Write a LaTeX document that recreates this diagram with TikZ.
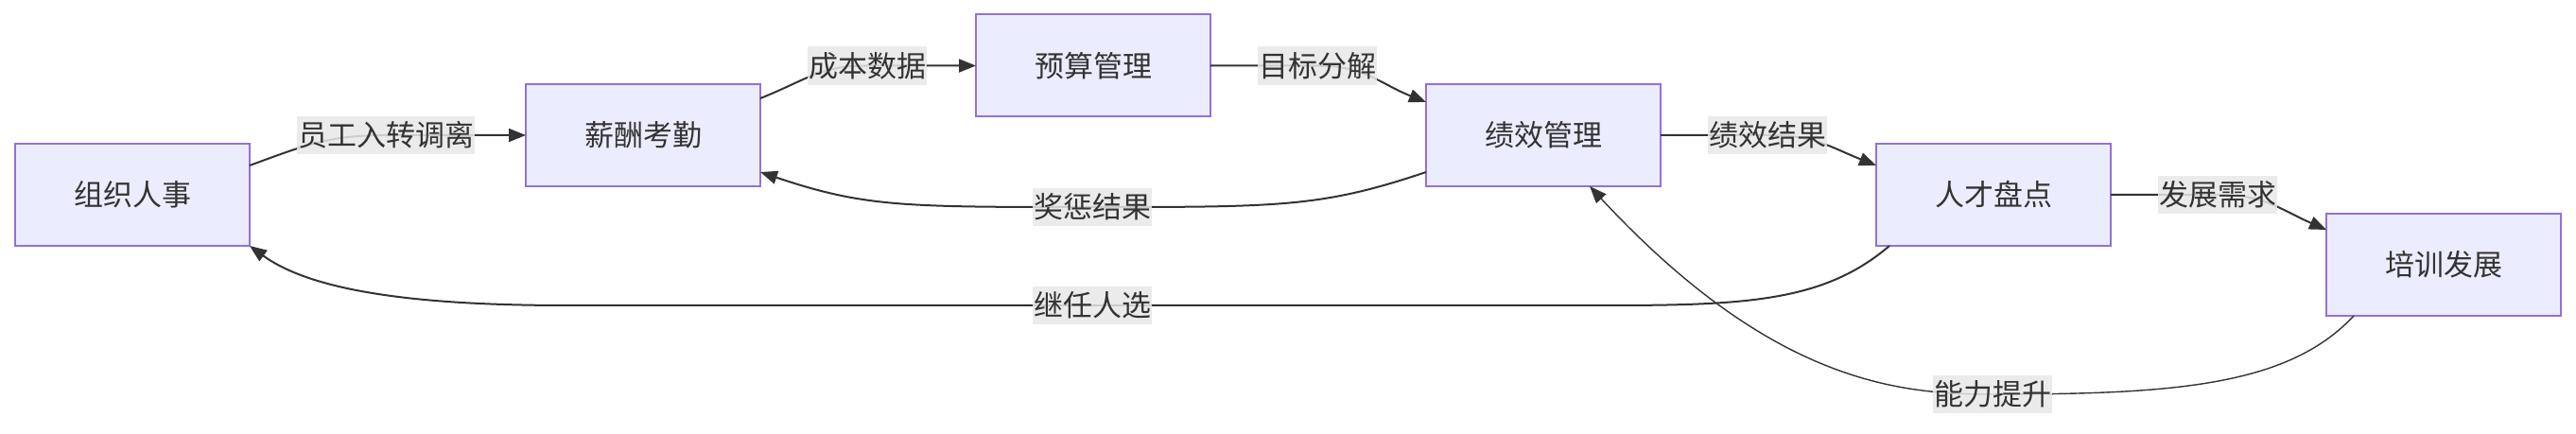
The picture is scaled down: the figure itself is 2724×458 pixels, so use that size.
\documentclass[tikz,border=0pt]{standalone}
\usepackage{fontspec}
\setmainfont{Noto Sans CJK SC}
\usepackage{tikz}
\usetikzlibrary{arrows.meta, positioning}
\definecolor{boxfill}{HTML}{ECECFF}
\definecolor{boxline}{HTML}{9370DB}
\definecolor{textgray}{HTML}{333333}
\definecolor{labelbg}{HTML}{E8E8E8}

\begin{document}
\begin{tikzpicture}[
    node distance=228pt,
    module/.style={rectangle, draw=boxline, fill=boxfill, line width=2pt, outer sep=0pt, minimum width=248pt, minimum height=108pt, align=center, text=textgray, font=\fontsize{31pt}{37pt}\selectfont},
    edgelabel/.style={rectangle, fill=labelbg, fill opacity=0.85, text opacity=1, inner xsep=1pt, inner ysep=6pt, text=textgray, font=\fontsize{31pt}{37pt}\selectfont},
    arrow/.style={-{Triangle[length=18pt,width=14pt]}, line width=2pt, draw=textgray},
    thinarrow/.style={arrow, line width=1.4pt}
]
    \useasboundingbox (0,0) rectangle (2724pt,458pt);

    % Modules
    \node[module] (zuzhi) at (140pt,252pt) {组织人事};
    \node[module, right=292pt of zuzhi, yshift=63pt] (xinchou) {薪酬考勤};
    \node[module, right=of xinchou, yshift=73.5pt] (yusuan) {预算管理};
    \node[module, right=of yusuan, yshift=-73.5pt] (jixiao) {绩效管理};
    \node[module, right=of jixiao, yshift=-63pt] (rencai) {人才盘点};
    \node[module, right=of rencai, yshift=-74pt] (peixun) {培训发展};

    % Arrows - forward flow
    \draw[arrow] ([yshift=31pt]zuzhi.east) .. controls +(60pt,22pt) and +(-60pt,0) .. (408pt,315pt) node[edgelabel] {员工入转调离} -- (xinchou.west);
    \draw[arrow] ([yshift=39pt]xinchou.east) .. controls +(50pt,20pt) and +(-50pt,0) .. (917pt,388.5pt) node[edgelabel] {成本数据} -- (yusuan.west);
    \draw[arrow] (yusuan.east) -- (1393pt,388.5pt) node[edgelabel] {目标分解} .. controls +(50pt,0) and +(-50pt,20pt) .. ([yshift=35pt]jixiao.west);
    \draw[arrow] (jixiao.east) -- (1869pt,315pt) node[edgelabel] {绩效结果} .. controls +(50pt,0) and +(-50pt,20pt) .. ([yshift=31pt]rencai.west);
    \draw[arrow] (rencai.east) -- (2345pt,252pt) node[edgelabel] {发展需求} .. controls +(50pt,0) and +(-50pt,22pt) .. ([yshift=37pt]peixun.west);

    % Arrows - feedback
    \draw[arrow] ([yshift=-39pt]jixiao.west) .. controls +(-110pt,-37pt) and +(200pt,0) .. (1155pt,239pt) node[edgelabel] {奖惩结果} .. controls +(-200pt,0) and +(110pt,-37pt) .. ([yshift=-39pt]xinchou.east);
    \draw[arrow] ([xshift=14pt]rencai.south west) .. controls (1930pt,140pt) and (1850pt,135pt) .. (1700pt,135pt) -- (1155pt,135pt) node[edgelabel] {继任人选} -- (600pt,135pt) .. controls (440pt,135pt) and (330pt,150pt) .. (zuzhi.south east);
    \draw[thinarrow] ([xshift=29pt]peixun.south west) .. controls (2420pt,50pt) and (2300pt,41pt) .. (2107pt,41pt) node[edgelabel] {能力提升} .. controls (2010pt,41pt) and (1875pt,52pt) .. ([xshift=49pt]jixiao.south);

\end{tikzpicture}
\end{document}
